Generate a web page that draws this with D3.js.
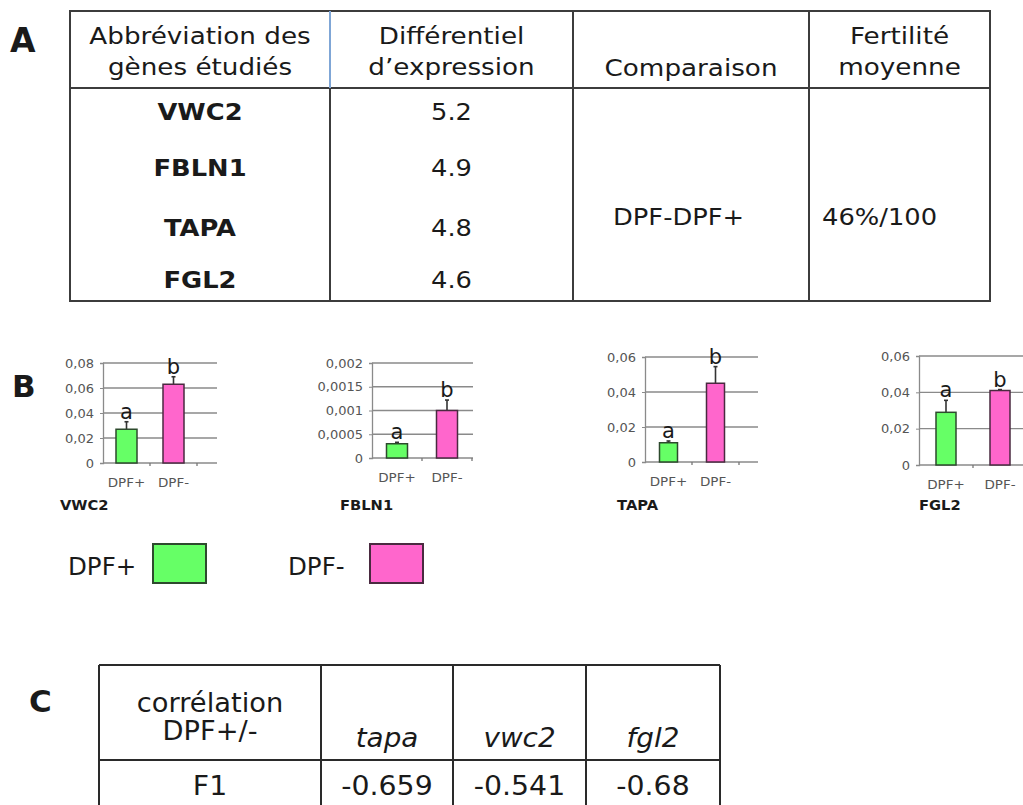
<!DOCTYPE html>
<meta charset="utf-8">
<style>
body { margin: 0; background: #fff; }
svg { display: block; }
.tbl { font-family: "DejaVu Sans", sans-serif; fill: #1a1a1a; }
.tick text { font-family: "DejaVu Sans", sans-serif; font-size: 13px; fill: #555; }
</style>
<body>
<script src="https://cdn.jsdelivr.net/npm/d3@7"></script>
<script>
// ---- data ----
var genes = ["VWC2", "FBLN1", "TAPA", "FGL2"];
var groups = ["DPF+", "DPF-"];
var meanPlus = [0.027, 0.0003, 0.011, 0.029];
var meanMinus = [0.063, 0.001, 0.045, 0.041];
var errPlus = [0.006, 0.00003, 0.001, 0.0066];
var errMinus = [0.006, 0.00022, 0.0095, 0.0005];
var letterPlus = ["a", "a", "a", "a"];
var letterMinus = ["b", "b", "b", "b"];
var yTicks = [
  [0, 0.02, 0.04, 0.06, 0.08],
  [0, 0.0005, 0.001, 0.0015, 0.002],
  [0, 0.02, 0.04, 0.06],
  [0, 0.02, 0.04, 0.06]
];

var headA = [["Abbréviation des", "gènes étudiés"], ["Différentiel", "d’expression"], ["Comparaison"], ["Fertilité", "moyenne"]];
var diffExpr = ["5.2", "4.9", "4.8", "4.6"];
var comparaison = "DPF-DPF+";
var fertilite = "46%/100";

var headC = [["corrélation", "DPF+/-"], ["tapa"], ["vwc2"], ["fgl2"]];
var rowC = "F1";
var corrF1 = ["-0.659", "-0.541", "-0.68"];

var colors = { "DPF+": "#66ff66", "DPF-": "#ff66cc" };
var strokes = { "DPF+": "#2d4a2d", "DPF-": "#4a2a40" };

// ---- layout ----
var width = 1023, height = 805;
var svg = d3.select("body").append("svg").attr("width", width).attr("height", height);

function txt(g, x, y, s, o) {
  o = o || {};
  return g.append("text")
    .attr("class", "tbl")
    .attr("transform", "translate(" + x + "," + y + ") scale(" + (o.sx || 1) + ",1)")
    .attr("text-anchor", o.anchor || "middle")
    .attr("font-size", o.size || 23)
    .attr("font-weight", o.weight || "normal")
    .attr("font-style", o.style || "normal")
    .attr("font-family", o.family || "DejaVu Sans")
    .text(s);
}

// panel letters
txt(svg, 10, 52, "A", { anchor: "start", size: 33, weight: "bold", family: "Open Sans" });
txt(svg, 12, 397, "B", { anchor: "start", size: 31, weight: "bold", family: "Open Sans" });
txt(svg, 29, 712, "C", { anchor: "start", size: 31, weight: "bold", family: "Open Sans" });

// ---- table A ----
var tA = { left: 70, right: 990, top: 11, head: 88, bottom: 301, cols: [70, 330, 573, 809, 990] };
var gA = svg.append("g");
gA.append("rect").attr("x", tA.left).attr("y", tA.top)
  .attr("width", tA.right - tA.left).attr("height", tA.bottom - tA.top)
  .attr("fill", "none").attr("stroke", "#3c3c3c").attr("stroke-width", 2);
gA.append("line").attr("x1", tA.left).attr("x2", tA.right).attr("y1", tA.head).attr("y2", tA.head)
  .attr("stroke", "#3c3c3c").attr("stroke-width", 2);
tA.cols.slice(1, 4).forEach(function (x, i) {
  gA.append("line").attr("x1", x).attr("x2", x).attr("y1", tA.head).attr("y2", tA.bottom)
    .attr("stroke", "#3c3c3c").attr("stroke-width", 2);
  gA.append("line").attr("x1", x).attr("x2", x).attr("y1", tA.top).attr("y2", tA.head)
    .attr("stroke", i == 0 ? "#7fa6d6" : "#3c3c3c").attr("stroke-width", 2);
});
headA.forEach(function (lines, i) {
  var cx = (tA.cols[i] + tA.cols[i + 1]) / 2;
  if (lines.length == 1) txt(gA, cx, 76, lines[0], { sx: 1.14 });
  else lines.forEach(function (l, j) { txt(gA, cx, 44 + j * 31, l, { sx: 1.14 }); });
});
var rowY = [120, 176, 236, 288];
genes.forEach(function (g, i) {
  txt(gA, (tA.cols[0] + tA.cols[1]) / 2, rowY[i], g, { weight: "bold", sx: 1.12 });
  txt(gA, (tA.cols[1] + tA.cols[2]) / 2, rowY[i], diffExpr[i], { sx: 1.12 });
});
txt(gA, 613, 225, comparaison, { anchor: "start", sx: 1.12 });
txt(gA, 822, 225, fertilite, { anchor: "start", sx: 1.12 });

// ---- panel B: bar charts ----
var charts = [
  { ax: 103, y0: 463, yTop: 363, right: 217, step: 47, barW: 21, labelX: 60 },
  { ax: 372, y0: 458, yTop: 363, right: 473, step: 50, barW: 21, labelX: 340 },
  { ax: 645, y0: 462, yTop: 357, right: 758, step: 47, barW: 18, labelX: 617 },
  { ax: 919, y0: 465, yTop: 356, right: 1023, step: 54, barW: 20, labelX: 919 }
];
var comma = function (v) { return String(v).replace(".", ","); };

genes.forEach(function (gene, i) {
  var c = charts[i];
  var ticks = yTicks[i];
  var y = d3.scaleLinear().domain([0, ticks[ticks.length - 1]]).range([c.y0, c.yTop]);
  var p = 1 - c.barW / c.step;
  var x = d3.scaleBand().domain(groups).range([c.ax, c.ax + 2 * c.step]).paddingInner(p).paddingOuter(p / 2);
  var g = svg.append("g");

  // grid
  g.selectAll(".grid").data(ticks.slice(1)).enter().append("line")
    .attr("x1", c.ax).attr("x2", c.right)
    .attr("y1", function (d) { return y(d); }).attr("y2", function (d) { return y(d); })
    .attr("stroke", "#8a8a8a").attr("stroke-width", 1.3);

  var ya = g.append("g").attr("transform", "translate(" + c.ax + ",0)")
    .call(d3.axisLeft(y).tickValues(ticks).tickSize(3).tickPadding(6).tickFormat(comma));
  ya.select(".domain").attr("stroke", "#8a8a8a").attr("stroke-width", 1.3);
  ya.selectAll(".tick line").attr("stroke", "#8a8a8a");

  // x axis baseline and boundary ticks
  g.append("line").attr("x1", c.ax).attr("x2", c.right).attr("y1", c.y0).attr("y2", c.y0)
    .attr("stroke", "#8a8a8a").attr("stroke-width", 1.3);
  groups.forEach(function (grp) {
    var bx = x(grp) + x.bandwidth() + x.step() * p / 2;
    g.append("line").attr("x1", bx).attr("x2", bx).attr("y1", c.y0).attr("y2", c.y0 + 3)
      .attr("stroke", "#777").attr("stroke-width", 1.3);
  });

  var vals = [
    { grp: "DPF+", v: meanPlus[i], e: errPlus[i], l: letterPlus[i] },
    { grp: "DPF-", v: meanMinus[i], e: errMinus[i], l: letterMinus[i] }
  ];
  vals.forEach(function (d) {
    var cx = x(d.grp) + x.bandwidth() / 2;
    // error bar
    g.append("line").attr("x1", cx).attr("x2", cx).attr("y1", y(d.v)).attr("y2", y(d.v + d.e))
      .attr("stroke", "#333").attr("stroke-width", 1.6);
    g.append("line").attr("x1", cx - 2).attr("x2", cx + 2).attr("y1", y(d.v + d.e)).attr("y2", y(d.v + d.e))
      .attr("stroke", "#333").attr("stroke-width", 1.6);
    g.append("rect").attr("x", x(d.grp)).attr("y", y(d.v))
      .attr("width", x.bandwidth()).attr("height", c.y0 - y(d.v))
      .attr("fill", colors[d.grp]).attr("stroke", strokes[d.grp]).attr("stroke-width", 1.5);
    txt(g, cx, y(d.v + d.e) - 3, d.l, { size: 21, family: "Open Sans" }).style("fill", "#1a1a1a");
    txt(g, cx, c.y0 + 24, d.grp, { size: 12.5, sx: 1.08 }).style("fill", "#555");
  });

  txt(g, c.labelX, 510, gene, { anchor: "start", size: 14, weight: "bold", sx: 1.05 });
});

// legend
var gL = svg.append("g");
[{ grp: "DPF+", tx: 68, sx: 153 }, { grp: "DPF-", tx: 288, sx: 370 }].forEach(function (d) {
  txt(gL, d.tx, 575, d.grp, { anchor: "start", size: 24.5 });
  gL.append("rect").attr("x", d.sx).attr("y", 544).attr("width", 53).attr("height", 39)
    .attr("fill", colors[d.grp]).attr("stroke", strokes[d.grp]).attr("stroke-width", 2);
});

// ---- table C ----
var tC = { top: 665, head: 760, bottom: 812, cols: [99, 321, 453, 586, 720] };
var gC = svg.append("g");
gC.append("line").attr("x1", tC.cols[0]).attr("x2", tC.cols[4]).attr("y1", tC.top).attr("y2", tC.top)
  .attr("stroke", "#2a2a2a").attr("stroke-width", 2);
gC.append("line").attr("x1", tC.cols[0]).attr("x2", tC.cols[4]).attr("y1", tC.head).attr("y2", tC.head)
  .attr("stroke", "#2a2a2a").attr("stroke-width", 2);
tC.cols.forEach(function (x) {
  gC.append("line").attr("x1", x).attr("x2", x).attr("y1", tC.top).attr("y2", tC.bottom)
    .attr("stroke", "#2a2a2a").attr("stroke-width", 2);
});
headC.forEach(function (lines, i) {
  var cx = (tC.cols[i] + tC.cols[i + 1]) / 2;
  if (lines.length == 1) txt(gC, cx, 747, lines[0], { size: 27, sx: 1.03, style: "italic" });
  else lines.forEach(function (l, j) { txt(gC, cx, 712 + j * 28, l, { size: 26, sx: 1.05 }); });
});
txt(gC, (tC.cols[0] + tC.cols[1]) / 2, 795, rowC, { size: 27, sx: 1.05 });
corrF1.forEach(function (v, i) {
  txt(gC, (tC.cols[i + 1] + tC.cols[i + 2]) / 2, 795, v, { size: 27, sx: 1.05 });
});
</script>
</body>
